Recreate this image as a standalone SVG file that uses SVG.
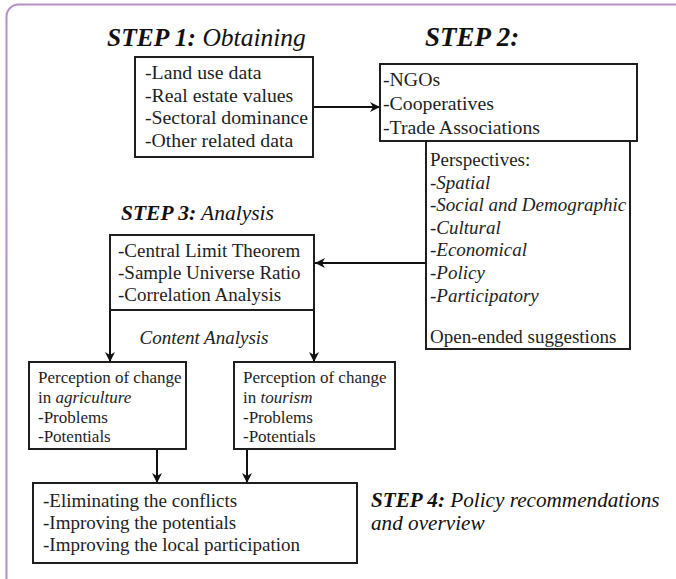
<svg xmlns="http://www.w3.org/2000/svg" width="676" height="579" viewBox="0 0 676 579">
  <style>
    text { font-family: "Liberation Serif", "Times New Roman", serif; fill: #1e1e1e; }
    .box { fill: #ffffff; stroke: #1e1e1e; stroke-width: 2; }
    .i { font-style: italic; }
    .b { font-weight: bold; }
    .step { font-style: italic; fill: #111111; }
    .s17 { font-size: 17px; }
    .s19 { font-size: 19px; }
    .s20 { font-size: 19.8px; }
    .link { fill: none; stroke: #111111; stroke-width: 2; }
  </style>
  <defs>
    <marker id="arrow" viewBox="0 0 10 10" refX="10" refY="5" markerWidth="5" markerHeight="5" orient="auto" markerUnits="strokeWidth">
      <path d="M0,0 L10,5 L0,10 L3,5 Z" fill="#111111"/>
    </marker>
  </defs>

  <!-- page frame -->
  <rect x="6.5" y="4.5" width="720" height="600" rx="12" fill="#ffffff" stroke="#b48fcc" stroke-width="2"/>

  <!-- step headings -->
  <g id="step1-title">
    <text class="step" x="107" y="46" font-size="25.5"><tspan class="b">STEP 1:</tspan> Obtaining</text>
  </g>
  <g id="step2-title">
    <text class="step b" x="425" y="46" font-size="27">STEP 2:</text>
  </g>
  <g id="step3-title">
    <text class="step" x="121" y="220" font-size="21.5"><tspan class="b">STEP 3:</tspan> Analysis</text>
  </g>
  <g id="step4-title">
    <text class="step" x="371" y="507" font-size="21.2"><tspan class="b">STEP 4:</tspan> Policy recommendations</text>
    <text class="step" x="371" y="530" font-size="21.2">and overview</text>
  </g>

  <!-- connectors -->
  <g id="connectors">
    <line class="link" x1="313" y1="107" x2="380" y2="107" marker-end="url(#arrow)"/>
    <line class="link" x1="426" y1="263" x2="315" y2="263" marker-end="url(#arrow)"/>
    <line class="link" x1="110" y1="310" x2="110" y2="362" marker-end="url(#arrow)"/>
    <line class="link" x1="314" y1="310" x2="314" y2="362" marker-end="url(#arrow)"/>
    <line class="link" x1="157" y1="449" x2="157" y2="483" marker-end="url(#arrow)"/>
    <line class="link" x1="247" y1="449" x2="247" y2="483" marker-end="url(#arrow)"/>
  </g>

  <g id="data-sources">
    <rect class="box" x="135" y="57" width="178" height="100"/>
    <text class="s20" x="145" y="79">-Land use data</text>
    <text class="s20" x="145" y="102">-Real estate values</text>
    <text class="s20" x="145" y="124">-Sectoral dominance</text>
    <text class="s20" x="145" y="147">-Other related data</text>
  </g>

  <g id="stakeholders">
    <rect class="box" x="380" y="64" width="257" height="77"/>
    <text class="s20" x="383" y="86">-NGOs</text>
    <text class="s20" x="383" y="110">-Cooperatives</text>
    <text class="s20" x="383" y="134">-Trade Associations</text>
  </g>

  <g id="perspectives">
    <rect class="box" x="426" y="141" width="204" height="208"/>
    <text class="s19" x="430" y="166">Perspectives:</text>
    <text class="s19 i" x="430" y="189">-Spatial</text>
    <text class="s19 i" x="430" y="211">-Social and Demographic</text>
    <text class="s19 i" x="430" y="234">-Cultural</text>
    <text class="s19 i" x="430" y="256">-Economical</text>
    <text class="s19 i" x="430" y="279">-Policy</text>
    <text class="s19 i" x="430" y="302">-Participatory</text>
    <text class="s19" x="430" y="343">Open-ended suggestions</text>
  </g>

  <g id="analysis">
    <rect class="box" x="110" y="235" width="204" height="75"/>
    <text class="s19" x="118" y="257">-Central Limit Theorem</text>
    <text class="s19" x="118" y="279">-Sample Universe Ratio</text>
    <text class="s19" x="118" y="301">-Correlation Analysis</text>
    <text class="s19 i" x="204" y="344" text-anchor="middle">Content Analysis</text>
  </g>

  <g id="agriculture">
    <rect class="box" x="29" y="362" width="157" height="87"/>
    <text class="s17" x="38" y="383">Perception of change</text>
    <text class="s17" x="38" y="403">in <tspan class="i">agriculture</tspan></text>
    <text class="s17" x="38" y="423">-Problems</text>
    <text class="s17" x="38" y="442">-Potentials</text>
  </g>

  <g id="tourism">
    <rect class="box" x="234" y="362" width="161" height="87"/>
    <text class="s17" x="243" y="383">Perception of change</text>
    <text class="s17" x="243" y="403">in <tspan class="i">tourism</tspan></text>
    <text class="s17" x="243" y="423">-Problems</text>
    <text class="s17" x="243" y="442">-Potentials</text>
  </g>

  <g id="recommendations">
    <rect class="box" x="33" y="483" width="324" height="80"/>
    <text class="s19" x="43" y="507">-Eliminating the conflicts</text>
    <text class="s19" x="43" y="529">-Improving the potentials</text>
    <text class="s19" x="43" y="551">-Improving the local participation</text>
  </g>
</svg>
